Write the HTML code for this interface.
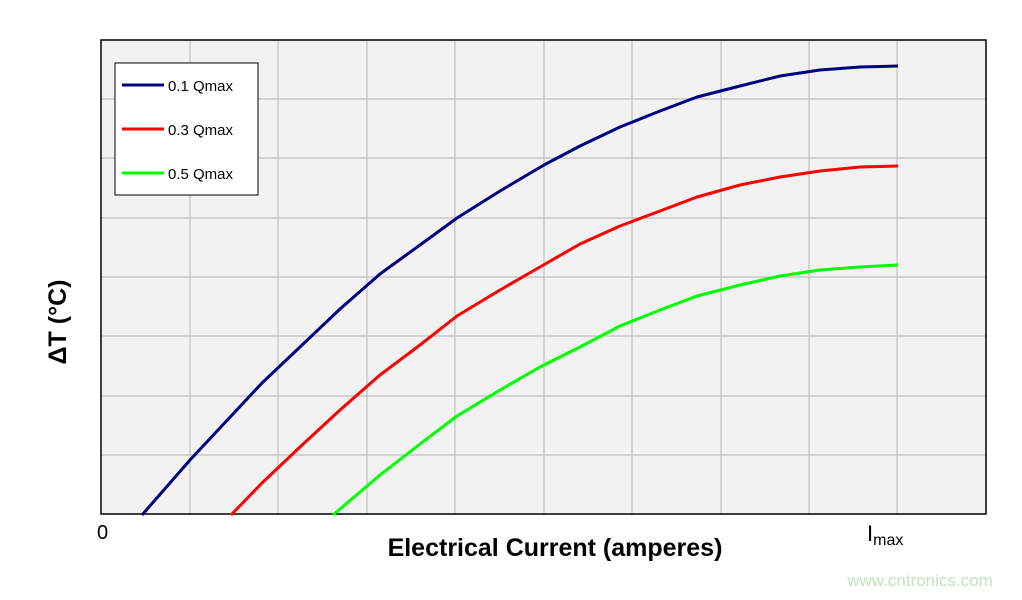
<!DOCTYPE html>
<html><head><style>body{margin:0;background:#fff;width:1022px;height:595px;overflow:hidden}</style></head><body>
<svg width="1022" height="595" xmlns="http://www.w3.org/2000/svg" font-family="Liberation Sans, Arial, sans-serif">
<rect x="101" y="40" width="885" height="474" fill="#f2f2f2"/>
<g stroke="#c0c0c0" stroke-width="1.2">
<line x1="190" y1="40" x2="190" y2="514"/><line x1="278" y1="40" x2="278" y2="514"/><line x1="367" y1="40" x2="367" y2="514"/><line x1="455" y1="40" x2="455" y2="514"/><line x1="544" y1="40" x2="544" y2="514"/><line x1="632" y1="40" x2="632" y2="514"/><line x1="721" y1="40" x2="721" y2="514"/><line x1="809" y1="40" x2="809" y2="514"/><line x1="897" y1="40" x2="897" y2="514"/>
<line x1="101" y1="99" x2="986" y2="99"/><line x1="101" y1="158" x2="986" y2="158"/><line x1="101" y1="218" x2="986" y2="218"/><line x1="101" y1="277" x2="986" y2="277"/><line x1="101" y1="336" x2="986" y2="336"/><line x1="101" y1="396" x2="986" y2="396"/><line x1="101" y1="455" x2="986" y2="455"/>
</g>
<rect x="101" y="40" width="885" height="474" fill="none" stroke="#000" stroke-width="1.5"/>
<g fill="none" stroke-width="3" stroke-linejoin="round">
<polyline stroke="#000080" points="142,515 190,460 262,383 300,347 340,309 380,274 420,245 457,218 500,191 544,165 580,146 620,127 660,111 697,97 740,86 780,76 820,70 860,67 898,66"/>
<polyline stroke="#ff0000" points="231,515 262,483 300,447 340,410 380,375 420,345 457,316 500,290 540,267 580,244 620,226 660,211 697,197 740,185 780,177 820,171 860,167 898,166"/>
<polyline stroke="#00ff00" points="333,515 380,475 420,444 457,416 500,390 540,367 580,347 620,326 660,310 697,296 740,285 780,276 820,270 860,267 898,265"/>
</g>
<rect x="115" y="63" width="143" height="132" fill="#fff" stroke="#000" stroke-width="1"/>
<g stroke-width="3"><line x1="122" y1="85" x2="164" y2="85" stroke="#000080"/><line x1="122" y1="129" x2="164" y2="129" stroke="#ff0000"/><line x1="122" y1="173" x2="164" y2="173" stroke="#00ff00"/></g>
<g font-size="15" fill="#000"><text x="168" y="91">0.1 Qmax</text><text x="168" y="135">0.3 Qmax</text><text x="168" y="179">0.5 Qmax</text></g>
<text x="97" y="539" font-size="20">0</text>
<text x="867" y="541" font-size="22">I<tspan font-size="16" dy="4">max</tspan></text>
<text x="555" y="556" font-size="25" font-weight="bold" text-anchor="middle">Electrical Current (amperes)</text>
<text transform="translate(66,322) rotate(-90)" font-size="25" font-weight="bold" text-anchor="middle">ΔT (°C)</text>
<text x="920" y="586" font-size="17" fill="#bfe3bf" text-anchor="middle">www.cntronics.com</text>
</svg>
</body></html>
